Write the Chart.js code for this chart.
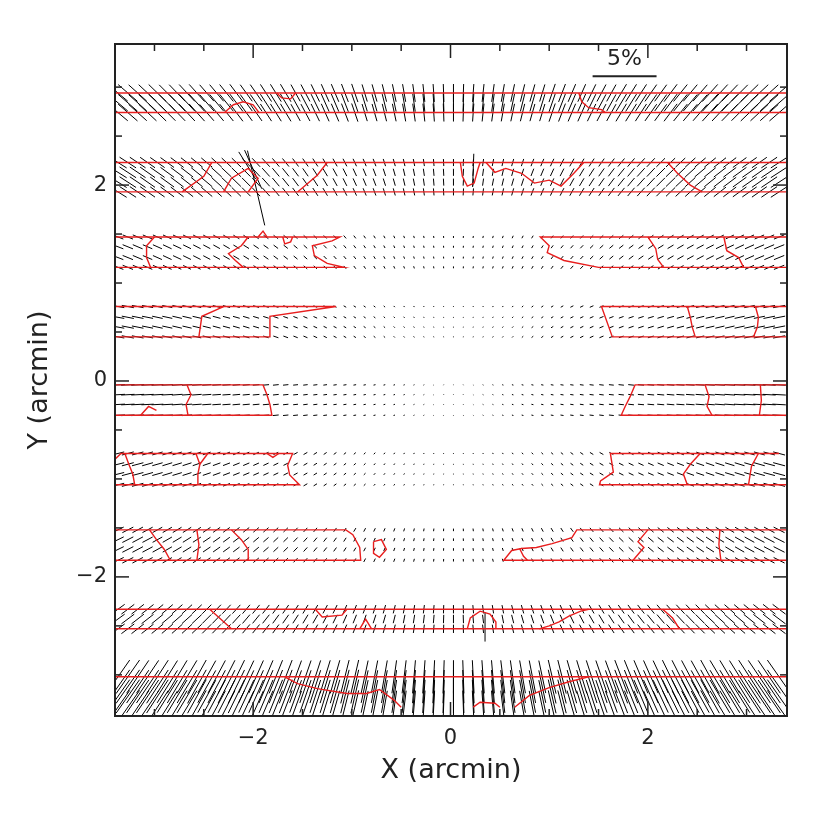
<!DOCTYPE html>
<html>
<head>
<meta charset="utf-8">
<title>Polarization vector map</title>
<script src="https://cdn.jsdelivr.net/npm/chart.js@4.4.1/dist/chart.umd.min.js"></script>
<style>
  html, body { margin: 0; padding: 0; background: #fff; }
  #wrap { width: 830px; height: 830px; }
</style>
</head>
<body>
<div id="wrap"><canvas id="map" width="830" height="830"></canvas></div>
<script>
// Grid columns (arcmin)
const colX = [-3.37,-3.27,-3.17,-3.07,-2.97,-2.87,-2.77,-2.67,-2.57,-2.47,-2.37,-2.27,-2.17,-2.07,-1.97,-1.87,-1.77,-1.67,-1.57,-1.47,-1.37,-1.27,-1.17,-1.07,-0.97,-0.87,-0.77,-0.67,-0.57,-0.47,-0.37,-0.27,-0.17,-0.07,
  0.03,0.13,0.23,0.33,0.43,0.53,0.63,0.73,0.83,0.93,1.03,1.13,1.23,1.33,1.43,1.53,1.63,1.73,1.83,1.93,2.03,2.13,2.23,2.33,2.43,2.53,2.63,2.73,2.83,2.93,3.03,3.13,3.23,3.33];

// Rows of each strip (arcmin)
const rowY1 = [2.94, 2.84, 2.74];
const rowY2 = [2.23, 2.13, 2.03, 1.93];
const rowY3 = [1.47, 1.37, 1.26, 1.16];
const rowY4 = [0.76, 0.65, 0.55, 0.45];
const rowY5 = [-0.04, -0.14, -0.24, -0.35];
const rowY6 = [-0.74, -0.85, -0.95, -1.06];
const rowY7 = [-1.52, -1.62, -1.72, -1.83];
const rowY8 = [-2.33, -2.43, -2.53];
const rowY9 = [-3.02, -3.12, -3.22, -3.33];

// Polarization degree (%) per column, per strip
const pol1 = [2.0,2.0,1.9,1.9,1.9,1.8,1.8,1.8,1.8,1.7,1.7,1.7,1.7,1.6,1.6,1.6,1.6,1.6,1.5,1.5,1.5,1.5,1.5,1.5,1.5,1.4,1.4,1.4,1.4,1.4,1.4,1.4,1.4,1.4,
  1.4,1.4,1.4,1.4,1.4,1.4,1.4,1.4,1.4,1.4,1.5,1.5,1.5,1.5,1.5,1.5,1.5,1.6,1.6,1.6,1.6,1.6,1.7,1.7,1.7,1.7,1.8,1.8,1.8,1.8,1.9,1.9,1.9,2.0];
const pol2 = [1.60,1.54,1.48,1.42,1.37,1.31,1.26,1.21,1.16,1.12,1.07,1.03,0.99,0.95,0.91,0.88,0.84,0.81,0.78,0.75,0.73,0.70,0.68,0.66,0.64,0.62,0.61,0.59,0.58,0.57,0.56,0.56,0.55,0.55,
  0.55,0.55,0.55,0.56,0.56,0.57,0.58,0.59,0.61,0.62,0.64,0.66,0.68,0.70,0.73,0.75,0.78,0.81,0.84,0.88,0.91,0.95,0.99,1.03,1.07,1.12,1.16,1.21,1.26,1.31,1.37,1.42,1.48,1.54];
const pol3 = [0.90,0.87,0.83,0.80,0.77,0.74,0.71,0.68,0.65,0.62,0.59,0.57,0.54,0.51,0.49,0.46,0.44,0.42,0.39,0.37,0.35,0.33,0.31,0.29,0.27,0.25,0.24,0.22,0.21,0.19,0.18,0.17,0.16,0.15,
  0.15,0.15,0.16,0.17,0.18,0.19,0.21,0.22,0.24,0.25,0.27,0.29,0.31,0.33,0.35,0.37,0.39,0.42,0.44,0.46,0.49,0.51,0.54,0.57,0.59,0.62,0.65,0.68,0.71,0.74,0.77,0.80,0.83,0.87];
const pol4 = [1.00,0.96,0.92,0.88,0.84,0.80,0.76,0.73,0.69,0.65,0.62,0.58,0.55,0.52,0.48,0.45,0.42,0.39,0.36,0.34,0.31,0.28,0.26,0.23,0.21,0.19,0.17,0.15,0.13,0.11,0.10,0.08,0.07,0.06,
  0.06,0.06,0.07,0.08,0.10,0.11,0.13,0.15,0.17,0.19,0.21,0.23,0.26,0.28,0.31,0.34,0.36,0.39,0.42,0.45,0.48,0.52,0.55,0.58,0.62,0.65,0.69,0.73,0.76,0.80,0.84,0.88,0.92,0.96];
const pol5 = [1.10,1.05,1.01,0.96,0.92,0.88,0.83,0.79,0.75,0.71,0.67,0.63,0.59,0.55,0.52,0.48,0.45,0.42,0.38,0.35,0.32,0.29,0.26,0.24,0.21,0.18,0.16,0.14,0.12,0.10,0.08,0.07,0.05,0.05,
  0.04,0.05,0.05,0.07,0.08,0.10,0.12,0.14,0.16,0.18,0.21,0.24,0.26,0.29,0.32,0.35,0.38,0.42,0.45,0.48,0.52,0.55,0.59,0.63,0.67,0.71,0.75,0.79,0.83,0.88,0.92,0.96,1.01,1.05];
const pol6 = [1.00,0.96,0.92,0.88,0.84,0.80,0.76,0.73,0.69,0.65,0.62,0.58,0.55,0.52,0.48,0.45,0.42,0.39,0.36,0.34,0.31,0.28,0.26,0.23,0.21,0.19,0.17,0.15,0.13,0.11,0.10,0.08,0.07,0.06,
  0.06,0.06,0.07,0.08,0.10,0.11,0.13,0.15,0.17,0.19,0.21,0.23,0.26,0.28,0.31,0.34,0.36,0.39,0.42,0.45,0.48,0.52,0.55,0.58,0.62,0.65,0.69,0.73,0.76,0.80,0.84,0.88,0.92,0.96];
const pol7 = [1.00,0.96,0.93,0.90,0.86,0.83,0.80,0.77,0.74,0.70,0.67,0.64,0.62,0.59,0.56,0.53,0.51,0.48,0.46,0.43,0.41,0.39,0.37,0.35,0.33,0.31,0.29,0.27,0.26,0.24,0.23,0.22,0.21,0.20,
  0.20,0.20,0.21,0.22,0.23,0.24,0.26,0.27,0.29,0.31,0.33,0.35,0.37,0.39,0.41,0.43,0.46,0.48,0.51,0.53,0.56,0.59,0.62,0.64,0.67,0.70,0.74,0.77,0.80,0.83,0.86,0.90,0.93,0.96];
const pol8 = [1.30,1.26,1.23,1.19,1.16,1.12,1.09,1.06,1.03,1.00,0.97,0.95,0.92,0.90,0.87,0.85,0.83,0.81,0.79,0.78,0.76,0.74,0.73,0.72,0.71,0.70,0.69,0.68,0.67,0.66,0.66,0.66,0.65,0.65,
  0.65,0.65,0.65,0.66,0.66,0.66,0.67,0.68,0.69,0.70,0.71,0.72,0.73,0.74,0.76,0.78,0.79,0.81,0.83,0.85,0.87,0.90,0.92,0.95,0.97,1.00,1.03,1.06,1.09,1.12,1.16,1.19,1.23,1.26];
const pol9 = [3.2,3.2,3.1,3.1,3.1,3.0,3.0,3.0,3.0,2.9,2.9,2.9,2.9,2.8,2.8,2.8,2.8,2.8,2.7,2.7,2.7,2.7,2.7,2.7,2.7,2.6,2.6,2.6,2.6,2.6,2.6,2.6,2.6,2.6,
  2.6,2.6,2.6,2.6,2.6,2.6,2.6,2.6,2.6,2.6,2.7,2.7,2.7,2.7,2.7,2.7,2.7,2.8,2.8,2.8,2.8,2.8,2.9,2.9,2.9,2.9,3.0,3.0,3.0,3.0,3.1,3.1,3.1,3.2];

// Position angle of the vectors (deg, counter-clockwise from +X) per column, per strip
const ang1 = [140,139,138,137,136,135,134,133,132,131,130,129,127,126,125,123,122,121,119,118,116,114,113,111,109,107,106,104,102,100,98,96,94,92,
  90,88,86,84,82,80,78,76,74,73,71,69,67,66,64,62,61,59,58,57,55,54,53,51,50,49,48,47,46,45,44,43,42,41];
const ang2 = [148,147,146,145,145,144,143,142,141,140,138,137,136,135,133,132,130,129,127,125,123,121,119,117,115,113,111,108,106,103,101,98,95,93,
  90,87,85,82,79,77,74,72,69,67,65,63,61,59,57,55,53,51,50,48,47,45,44,43,42,40,39,38,37,36,35,35,34,33];
const ang3 = [159,158,157,157,156,155,155,154,153,152,151,150,149,148,146,145,143,142,140,138,136,134,132,130,127,124,121,118,114,111,107,103,99,94,
  90,86,81,77,73,69,66,62,59,56,53,50,48,46,44,42,40,38,37,35,34,32,31,30,29,28,27,26,25,25,24,23,23,22];
const ang4 = [170,169,169,169,168,168,167,167,167,166,165,165,164,163,163,162,161,160,159,157,156,154,153,150,148,145,142,138,134,129,123,116,108,99,
  90,81,72,64,57,51,46,42,38,35,32,30,27,26,24,23,21,20,19,18,17,17,16,15,15,14,13,13,13,12,12,11,11,11];
const ang5 = [3,3,3,3,3,3,4,4,4,4,4,4,5,5,5,5,6,6,6,7,7,8,8,9,10,11,12,14,16,19,24,30,41,60,
  90,120,139,150,156,161,164,166,168,169,170,171,172,172,173,173,174,174,174,175,175,175,175,176,176,176,176,176,176,177,177,177,177,177];
const ang6 = [14,15,15,16,16,17,17,18,19,19,20,21,22,23,24,25,26,27,29,30,32,34,36,39,41,44,48,51,56,60,66,71,77,83,
  90,97,103,109,114,120,124,129,132,136,139,141,144,146,148,150,151,153,154,155,156,157,158,159,160,161,161,162,163,163,164,164,165,165];
const ang7 = [26,27,28,28,29,30,31,32,33,34,35,36,37,38,40,41,43,44,46,48,50,52,54,57,59,62,64,67,70,73,76,80,83,87,
  90,93,97,100,104,107,110,113,116,118,121,123,126,128,130,132,134,136,137,139,140,142,143,144,145,146,147,148,149,150,151,152,152,153];
const ang8 = [36,37,38,38,39,40,41,42,43,45,46,47,48,50,51,52,54,55,57,59,60,62,64,66,68,70,72,74,76,79,81,83,85,88,
  90,92,95,97,99,101,104,106,108,110,112,114,116,118,120,121,123,125,126,128,129,130,132,133,134,135,137,138,139,140,141,142,142,143];
const ang9 = [55,55,56,56,57,58,59,59,61,61,62,63,64,65,66,67,68,69,70,71,72,73,74,76,77,78,79,80,82,83,85,86,87,88,
  90,92,93,94,95,97,98,100,101,102,103,104,106,107,108,109,110,111,112,113,114,115,116,117,118,119,119,121,121,122,123,124,124,125];

// A few isolated large vectors
const bigX = [-1.97, -2.00, -2.06, 0.23, 0.35];
const bigY = [1.97, 2.16, 2.20, 2.15, -2.51];
const bigP = [6.0, 3.3, 2.5, 2.6, 2.3];
const bigA = [103, 114, 122, 88, 90];

// Red contours, [x, y] in arcmin, grouped by strip
const redS1 = [
  [[-3.40,2.94],[3.41,2.94]],
  [[-3.40,2.74],[3.41,2.74]],
  [[-2.29,2.74],[-2.20,2.82],[-2.10,2.85],[-2.00,2.82],[-1.94,2.74]],
  [[-1.76,2.94],[-1.71,2.89],[-1.62,2.88],[-1.57,2.94]],
  [[1.30,2.94],[1.33,2.85],[1.40,2.79],[1.53,2.77],[1.57,2.74]]
];
const redS2 = [
  [[-3.40,2.23],[3.41,2.23]],
  [[-3.40,1.93],[3.41,1.93]],
  [[-2.72,1.93],[-2.50,2.09],[-2.42,2.23]],
  [[-2.30,1.93],[-2.22,2.07],[-2.05,2.17],[-1.95,2.07],[-2.05,1.93]],
  [[-1.55,1.93],[-1.35,2.10],[-1.25,2.23]],
  [[0.10,2.23],[0.12,2.09],[0.17,1.99],[0.24,2.02],[0.28,2.17],[0.30,2.23]],
  [[0.36,2.23],[0.45,2.13],[0.56,2.17],[0.72,2.12],[0.85,2.02],[1.00,2.05],[1.12,1.99],[1.25,2.12],[1.35,2.23]],
  [[2.20,2.23],[2.30,2.12],[2.43,2.00],[2.55,1.93]]
];
const redS3 = [
  [[-3.40,1.47],[-1.12,1.47],[-1.20,1.43],[-1.40,1.38],[-1.38,1.28],[-1.25,1.20],[-1.08,1.16],[-3.40,1.16]],
  [[-3.00,1.47],[-3.08,1.38],[-3.08,1.26],[-3.04,1.16]],
  [[-2.05,1.47],[-2.12,1.38],[-2.25,1.30],[-2.18,1.23],[-2.10,1.16]],
  [[-1.95,1.47],[-1.90,1.53],[-1.86,1.47]],
  [[-1.70,1.47],[-1.68,1.40],[-1.62,1.42],[-1.60,1.47]],
  [[3.41,1.47],[0.91,1.47],[1.00,1.38],[0.98,1.31],[1.15,1.23],[1.50,1.16],[3.41,1.16]],
  [[2.00,1.47],[2.08,1.35],[2.10,1.24],[2.16,1.16]],
  [[2.77,1.47],[2.80,1.33],[2.92,1.26],[2.97,1.16]]
];
const redS4 = [
  [[-3.40,0.76],[-1.16,0.76],[-1.83,0.66],[-1.83,0.45],[-3.40,0.45]],
  [[-2.55,0.45],[-2.52,0.66],[-2.30,0.76]],
  [[3.41,0.76],[1.53,0.76],[1.64,0.45],[3.41,0.45]],
  [[2.40,0.76],[2.43,0.65],[2.45,0.55],[2.48,0.45]],
  [[3.09,0.76],[3.12,0.65],[3.11,0.55],[3.07,0.45]]
];
const redS5 = [
  [[-3.40,-0.04],[-1.90,-0.04],[-1.86,-0.14],[-1.83,-0.24],[-1.81,-0.35],[-3.40,-0.35]],
  [[-2.67,-0.04],[-2.63,-0.14],[-2.68,-0.24],[-2.66,-0.35]],
  [[-3.14,-0.35],[-3.06,-0.26],[-2.98,-0.30]],
  [[3.41,-0.04],[1.87,-0.04],[1.82,-0.16],[1.77,-0.26],[1.73,-0.35],[3.41,-0.35]],
  [[2.58,-0.04],[2.62,-0.16],[2.60,-0.26],[2.65,-0.35]],
  [[3.14,-0.04],[3.15,-0.20],[3.13,-0.35]]
];
const redS6 = [
  [[-3.40,-0.80],[-3.34,-0.74],[-1.60,-0.74],[-1.65,-0.86],[-1.63,-0.96],[-1.53,-1.06],[-3.40,-1.06]],
  [[-3.30,-0.74],[-3.26,-0.85],[-3.22,-0.95],[-3.20,-1.06]],
  [[-2.58,-0.74],[-2.54,-0.85],[-2.56,-0.95],[-2.56,-1.06]],
  [[-2.54,-0.85],[-2.46,-0.74]],
  [[-1.86,-0.74],[-1.80,-0.78],[-1.74,-0.74]],
  [[3.33,-0.74],[1.62,-0.74],[1.65,-0.93],[1.52,-1.02],[1.51,-1.06],[3.41,-1.06]],
  [[2.53,-0.74],[2.43,-0.85],[2.36,-0.95],[2.40,-1.06]],
  [[3.12,-0.74],[3.05,-0.87],[3.02,-1.06]]
];
const redS7 = [
  [[-3.40,-1.52],[-1.06,-1.52],[-0.99,-1.57],[-0.92,-1.70],[-0.91,-1.83],[-3.40,-1.83]],
  [[-3.05,-1.52],[-2.98,-1.62],[-2.90,-1.72],[-2.84,-1.83]],
  [[-2.57,-1.52],[-2.55,-1.67],[-2.57,-1.83]],
  [[-2.22,-1.52],[-2.12,-1.62],[-2.05,-1.72],[-2.05,-1.83]],
  [[-0.78,-1.64],[-0.70,-1.62],[-0.65,-1.72],[-0.72,-1.80],[-0.78,-1.76],[-0.78,-1.64]],
  [[3.41,-1.52],[1.28,-1.52],[1.23,-1.60],[1.03,-1.66],[0.87,-1.70],[0.72,-1.71],[0.62,-1.73],[0.54,-1.83],[3.41,-1.83]],
  [[0.70,-1.71],[0.74,-1.79],[0.78,-1.83]],
  [[2.00,-1.52],[1.90,-1.64],[1.96,-1.70],[1.85,-1.83]],
  [[2.73,-1.52],[2.72,-1.67],[2.74,-1.83]]
];
const redS8 = [
  [[-3.40,-2.33],[3.41,-2.33]],
  [[-3.40,-2.53],[3.41,-2.53]],
  [[-2.44,-2.33],[-2.33,-2.43],[-2.22,-2.53]],
  [[-1.37,-2.33],[-1.30,-2.41],[-1.10,-2.39],[-1.05,-2.33]],
  [[-0.92,-2.53],[-0.86,-2.43],[-0.80,-2.53]],
  [[0.17,-2.53],[0.20,-2.42],[0.30,-2.35],[0.40,-2.38],[0.46,-2.46],[0.46,-2.53]],
  [[0.90,-2.53],[1.00,-2.50],[1.10,-2.46],[1.20,-2.40],[1.32,-2.35],[1.40,-2.33]],
  [[2.15,-2.33],[2.25,-2.42],[2.32,-2.53]]
];
const redS9 = [
  [[-3.40,-3.02],[3.41,-3.02]],
  [[-1.68,-3.02],[-1.55,-3.09],[-1.35,-3.14],[-1.05,-3.19],[-0.85,-3.19],[-0.72,-3.15],[-0.57,-3.26],[-0.50,-3.33]],
  [[0.23,-3.33],[0.30,-3.28],[0.45,-3.29],[0.50,-3.33]],
  [[0.65,-3.33],[0.80,-3.21],[1.00,-3.13],[1.20,-3.07],[1.40,-3.02]]
];

// Axes
const xRange = [-3.40, 3.41];
const yRange = [-3.42, 3.44];
const labelTicks = [-2, 0, 2];
const minorTicks = [-3, -2.5, -1.5, -1, -0.5, 0.5, 1, 1.5, 2.5, 3];

// Scale bar: 5 % spans 0.648 arcmin
const barPct = 5;
const pctLen = 0.1296;
const barX0 = 1.44;
const barY = 3.11;
const barLabelY = 3.28;

const FONT = '"DejaVu Sans", "Liberation Sans", Arial, sans-serif';
const INK = '#222';
const RED = '#e81e1e';

const pxPerPct = (chart) => Math.abs(chart.scales.x.getPixelForValue(pctLen) - chart.scales.x.getPixelForValue(0));
const vecRadius = (c) => (c.raw ? c.raw.p * pxPerPct(c.chart) / 2 : 0);
const vecRotation = (c) => (c.raw ? -c.raw.a : 0);
const fmtTick = (v) => (v < 0 ? '\u2212' + Math.abs(v) : String(v));

const strips = [
  [rowY1, pol1, ang1], [rowY2, pol2, ang2], [rowY3, pol3, ang3],
  [rowY4, pol4, ang4], [rowY5, pol5, ang5], [rowY6, pol6, ang6],
  [rowY7, pol7, ang7], [rowY8, pol8, ang8], [rowY9, pol9, ang9]
];

const vectorStyle = {
  showLine: false,
  pointStyle: 'line',
  pointRadius: vecRadius,
  pointRotation: vecRotation,
  pointBorderColor: '#000',
  pointBorderWidth: 1,
  clip: 0,
  order: 2
};

const vectorSets = strips.map(([rows, pol, ang]) => ({
  ...vectorStyle,
  data: rows.flatMap(y => colX.map((x, i) => ({ x, y, p: pol[i], a: ang[i] })))
}));

vectorSets.push({
  ...vectorStyle,
  data: bigX.map((x, i) => ({ x, y: bigY[i], p: bigP[i], a: bigA[i] }))
});

const contourSets = [redS1, redS2, redS3, redS4, redS5, redS6, redS7, redS8, redS9].flat().map(path => ({
  showLine: true,
  data: path.map(([x, y]) => ({ x, y })),
  borderColor: RED,
  borderWidth: 1.4,
  pointRadius: 0,
  tension: 0,
  clip: 0,
  order: 1
}));

const barSet = {
  showLine: true,
  data: [{ x: barX0, y: barY }, { x: barX0 + barPct * pctLen, y: barY }],
  borderColor: INK,
  borderWidth: 2,
  pointRadius: 0,
  clip: false,
  order: 0
};

// Frame, inward ticks on all four sides, scale bar label
const frameTicks = {
  id: 'frameTicks',
  afterDatasetsDraw(chart) {
    const { ctx, chartArea: a, scales: { x, y } } = chart;
    const seg = (x1, y1, x2, y2) => { ctx.beginPath(); ctx.moveTo(x1, y1); ctx.lineTo(x2, y2); ctx.stroke(); };
    ctx.save();
    ctx.strokeStyle = INK;
    ctx.lineWidth = 1.5;
    const tickSet = [[labelTicks, 14], [minorTicks, 7]];
    tickSet.forEach(([vals, len]) => {
      vals.forEach(v => {
        const px = x.getPixelForValue(v);
        seg(px, a.top, px, a.top + len);
        seg(px, a.bottom, px, a.bottom - len);
        const py = y.getPixelForValue(v);
        seg(a.left, py, a.left + len, py);
        seg(a.right, py, a.right - len, py);
      });
    });
    ctx.lineWidth = 2;
    ctx.strokeRect(a.left, a.top, a.right - a.left, a.bottom - a.top);

    ctx.fillStyle = INK;
    ctx.font = '22px ' + FONT;
    ctx.textAlign = 'center';
    ctx.textBaseline = 'middle';
    ctx.fillText(barPct + '%', x.getPixelForValue(barX0 + barPct * pctLen / 2), y.getPixelForValue(barLabelY));
    ctx.restore();
  }
};

new Chart(document.getElementById('map'), {
  type: 'scatter',
  data: { datasets: [barSet, ...contourSets, ...vectorSets] },
  options: {
    responsive: false,
    animation: false,
    events: [],
    layout: { padding: { top: 44, right: 43, left: 0, bottom: 0 } },
    plugins: { legend: { display: false }, tooltip: { enabled: false } },
    scales: {
      x: {
        type: 'linear',
        min: xRange[0],
        max: xRange[1],
        grid: { display: false, drawTicks: false },
        border: { display: false },
        afterBuildTicks: (s) => { s.ticks = labelTicks.map(v => ({ value: v })); },
        afterFit: (s) => { s.height = 114; },
        ticks: { font: { family: FONT, size: 21 }, color: INK, padding: 10, maxRotation: 0, callback: fmtTick },
        title: { display: true, text: 'X (arcmin)', color: INK, font: { family: FONT, size: 27 }, padding: { top: 0, bottom: 43 } }
      },
      y: {
        type: 'linear',
        min: yRange[0],
        max: yRange[1],
        grid: { display: false, drawTicks: false },
        border: { display: false },
        afterBuildTicks: (s) => { s.ticks = labelTicks.map(v => ({ value: v })); },
        afterFit: (s) => { s.width = 115; },
        ticks: { font: { family: FONT, size: 21 }, color: INK, padding: 8, callback: fmtTick },
        title: { display: true, text: 'Y (arcmin)', color: INK, font: { family: FONT, size: 27 }, padding: { top: 24, bottom: 0 } }
      }
    }
  },
  plugins: [frameTicks]
});
</script>
</body>
</html>
